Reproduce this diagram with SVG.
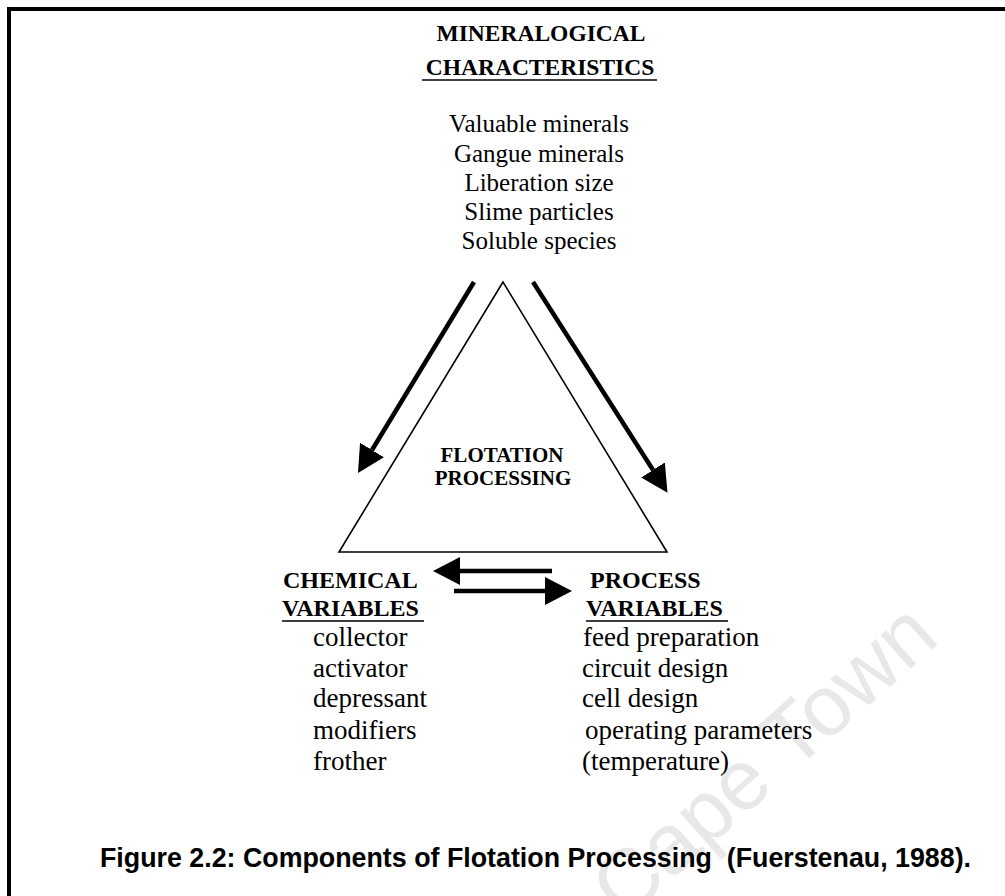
<svg xmlns="http://www.w3.org/2000/svg" width="1005" height="896" viewBox="0 0 1005 896">
  <style>
    .hb { font-family: "Liberation Serif", "Times New Roman", serif; font-weight: bold; fill: #000; }
    .tx { font-family: "Liberation Serif", "Times New Roman", serif; fill: #000; }
    .cap { font-family: "Liberation Sans", Arial, sans-serif; font-weight: bold; font-size: 26.8px; fill: #000; }
    .wm { font-family: "Liberation Sans", Arial, sans-serif; font-size: 85px; fill: #e8e8e8; }
    .ul { stroke: #000; stroke-width: 1.6; }
    .shaft { stroke: #000; stroke-width: 4.5; fill: none; }
  </style>
  <defs>
    <marker id="head" viewBox="0 0 27 28" refX="0" refY="14" markerWidth="27" markerHeight="28" markerUnits="userSpaceOnUse" orient="auto">
      <polygon points="0,0 27,14 0,28" fill="#000"/>
    </marker>
  </defs>
  <rect width="1005" height="896" fill="#fff"/>

  <!-- watermark -->
  <text class="wm" transform="translate(624,922) rotate(-41.5)">Cape Town</text>

  <!-- frame -->
  <path d="M9,896 L9,9 L1005,9" fill="none" stroke="#000" stroke-width="4"/>

  <g id="mineralogical">
    <text class="hb" x="541" y="41" font-size="23.5" text-anchor="middle">MINERALOGICAL</text>
    <text class="hb" x="540" y="75" font-size="23.5" text-anchor="middle">CHARACTERISTICS</text>
    <line class="ul" x1="422" y1="80" x2="657" y2="80"/>
    <g class="tx" font-size="25" text-anchor="middle">
      <text x="539" y="132">Valuable minerals</text>
      <text x="539" y="162">Gangue minerals</text>
      <text x="539" y="191">Liberation size</text>
      <text x="539" y="220">Slime particles</text>
      <text x="539" y="249">Soluble species</text>
    </g>
  </g>

  <g id="flotation">
    <polygon points="503,282 339,552 667,552" fill="none" stroke="#000" stroke-width="1.6" stroke-linejoin="miter"/>
    <text class="hb" x="502" y="462" font-size="21" text-anchor="middle">FLOTATION</text>
    <text class="hb" x="503" y="485" font-size="21" text-anchor="middle">PROCESSING</text>
  </g>

  <g id="chemical">
    <text class="hb" x="283" y="588" font-size="24">CHEMICAL</text>
    <text class="hb" x="282" y="616" font-size="24">VARIABLES</text>
    <line class="ul" x1="282" y1="621" x2="424" y2="621"/>
    <g class="tx" font-size="27">
      <text x="313" y="646">collector</text>
      <text x="313" y="677">activator</text>
      <text x="313" y="707">depressant</text>
      <text x="313" y="739">modifiers</text>
      <text x="313" y="770">frother</text>
    </g>
  </g>

  <g id="process">
    <text class="hb" x="590" y="588" font-size="24">PROCESS</text>
    <text class="hb" x="586" y="616" font-size="24">VARIABLES</text>
    <line class="ul" x1="586" y1="621" x2="728" y2="621"/>
    <g class="tx" font-size="27">
      <text x="583" y="646">feed preparation</text>
      <text x="582" y="677">circuit design</text>
      <text x="582" y="707">cell design</text>
      <text x="585" y="739">operating parameters</text>
      <text x="582" y="770">(temperature)</text>
    </g>
  </g>

  <g id="connectors">
    <line class="shaft" x1="474" y1="282" x2="372" y2="450" marker-end="url(#head)"/>
    <line class="shaft" x1="533" y1="282" x2="653" y2="470" marker-end="url(#head)"/>
    <line class="shaft" x1="552" y1="571" x2="460" y2="571" marker-end="url(#head)"/>
    <line class="shaft" x1="454" y1="591" x2="545" y2="591" marker-end="url(#head)"/>
  </g>

  <g id="caption">
    <text class="cap" x="100" y="867" xml:space="preserve">Figure 2.2: Components of Flotation Processing  (Fuerstenau, 1988).</text>
  </g>
</svg>
